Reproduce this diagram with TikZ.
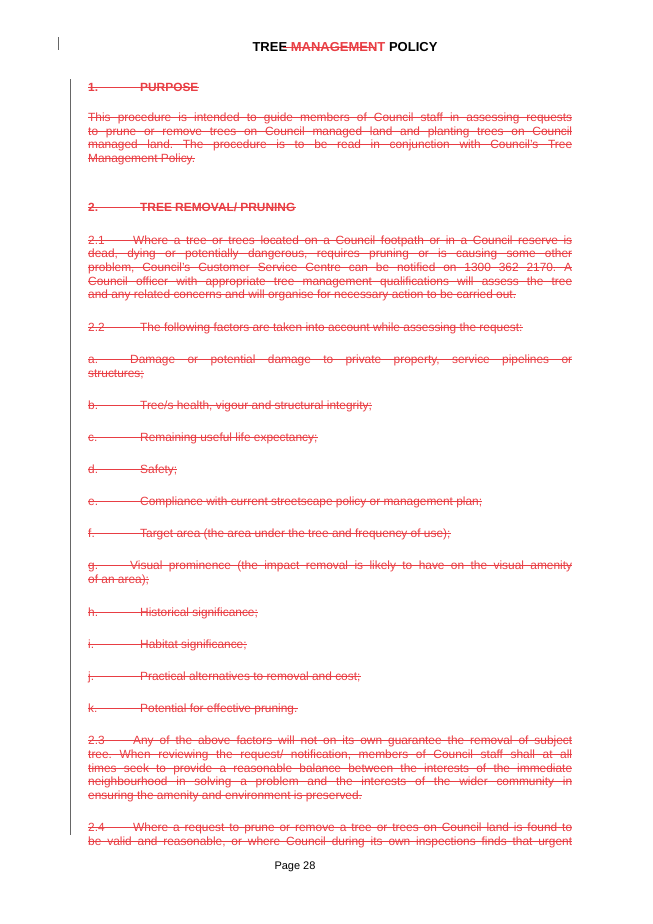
\documentclass[tikz,border=0pt]{standalone}
\usepackage{fontspec}
\setmainfont{Liberation Sans}
\usetikzlibrary{calc}
\definecolor{delred}{RGB}{232,62,68}
\frenchspacing

% one struck-out line of text (name, baseline y, content)
\newcommand{\delline}[3]{%
  \node[delline] (#1) at (88,-#2) {#3};
  \draw[strike] ($(#1.base west)+(0,3.6)$) -- ($(#1.base east)+(0,3.6)$);}
\newcommand{\just}[1]{\makebox[484pt][s]{#1}}
\newcommand{\tabto}[2]{\makebox[#1][l]{#2}}

\begin{document}
\begin{tikzpicture}[
    x=1pt, y=1pt,
    delline/.style={anchor=base west, inner sep=0pt, text=delred, font=\fontsize{11.9}{13}\selectfont},
    strike/.style={delred, line width=0.6pt},
    bar/.style={draw=black!60, line width=1pt}
]
\useasboundingbox (0,0) rectangle (653,-924);

% change bars
\draw[bar] (58,-37) -- (58,-50);
\draw[bar] (70,-79) -- (70,-835);

% title
\node[anchor=base, inner sep=0pt, font=\fontsize{13}{15}\selectfont\bfseries] (title) at (345,-51)
  {TREE \textcolor{delred}{MANAGEMENT} POLICY};
\draw[strike] ($(title.base)+(-62,4)$) -- ($(title.base)+(30,4)$);

% section 1
\delline{h1}{91}{\bfseries\tabto{52pt}{1.}PURPOSE}
\delline{p1a}{121}{\just{This procedure is intended to guide members of Council staff in assessing requests}}
\delline{p1b}{135}{\just{to prune or remove trees on Council managed land and planting trees on Council}}
\delline{p1c}{148}{\just{managed land. The procedure is to be read in conjunction with Council's Tree}}
\delline{p1d}{162}{Management Policy.}

% section 2
\delline{h2}{211}{\bfseries\tabto{52pt}{2.}TREE REMOVAL/ PRUNING}
\delline{p21a}{244}{\just{\tabto{45pt}{2.1}Where a tree or trees located on a Council footpath or in a Council reserve is}}
\delline{p21b}{257}{\just{dead, dying or potentially dangerous, requires pruning or is causing some other}}
\delline{p21c}{271}{\just{problem, Council's Customer Service Centre can be notified on 1300 362 2170. A}}
\delline{p21d}{285}{\just{Council officer with appropriate tree management qualifications will assess the tree}}
\delline{p21e}{298}{and any related concerns and will organise for necessary action to be carried out.}
\delline{p22}{331}{\tabto{52pt}{2.2}The following factors are taken into account while assessing the request:}
\delline{fa1}{363}{\just{\tabto{42pt}{a.}Damage or potential damage to private property, service pipelines or}}
\delline{fa2}{377}{structures;}
\delline{fb}{409}{\tabto{52pt}{b.}Tree/s health, vigour and structural integrity;}
\delline{fc}{441}{\tabto{52pt}{c.}Remaining useful life expectancy;}
\delline{fd}{473}{\tabto{52pt}{d.}Safety;}
\delline{fe}{505}{\tabto{52pt}{e.}Compliance with current streetscape policy or management plan;}
\delline{ff}{537}{\tabto{52pt}{f.}Target area (the area under the tree and frequency of use);}
\delline{fg1}{569}{\just{\tabto{42pt}{g.}Visual prominence (the impact removal is likely to have on the visual amenity}}
\delline{fg2}{583}{of an area);}
\delline{fh}{616}{\tabto{52pt}{h.}Historical significance;}
\delline{fi}{648}{\tabto{52pt}{i.}Habitat significance;}
\delline{fj}{680}{\tabto{52pt}{j.}Practical alternatives to removal and cost;}
\delline{fk}{712}{\tabto{52pt}{k.}Potential for effective pruning.}
\delline{p23a}{744}{\just{\tabto{45pt}{2.3}Any of the above factors will not on its own guarantee the removal of subject}}
\delline{p23b}{758}{\just{tree. When reviewing the request/ notification, members of Council staff shall at all}}
\delline{p23c}{772}{\just{times seek to provide a reasonable balance between the interests of the immediate}}
\delline{p23d}{785}{\just{neighbourhood in solving a problem and the interests of the wider community in}}
\delline{p23e}{799}{ensuring the amenity and environment is preserved.}
\delline{p24a}{831}{\just{\tabto{45pt}{2.4}Where a request to prune or remove a tree or trees on Council land is found to}}
\delline{p24b}{845}{\just{be valid and reasonable, or where Council during its own inspections finds that urgent}}

% footer
\node[anchor=base, inner sep=0pt, font=\fontsize{11}{13}\selectfont] (page) at (295,-869) {Page 28};
\end{tikzpicture}
\end{document}
